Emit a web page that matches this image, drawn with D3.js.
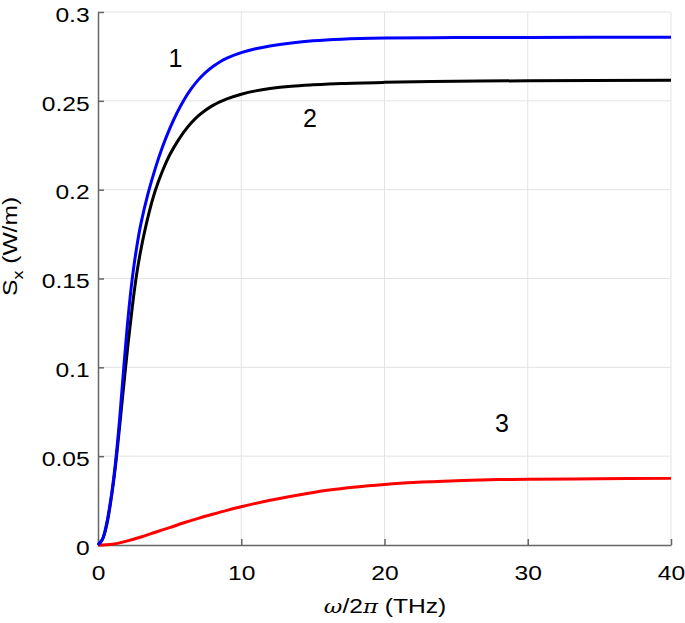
<!DOCTYPE html>
<html>
<head>
<meta charset="utf-8"/>
<style>
    body { margin: 0; background: #fff; }
    text { font-family: "Liberation Sans", Arial, sans-serif; fill: #000; }
    .grid line { stroke: #e3e3e3; stroke-width: 1; }
    .axis path, .axis line { stroke: #666; stroke-width: 1.5; }
    .axis text { font-size: 20.5px; }
</style>
</head>
<body>
<svg id="chart" width="685" height="623"></svg>
<script src="https://cdnjs.cloudflare.com/ajax/libs/d3/7.8.5/d3.min.js"></script>
<script>
// curve 1 (blue)
const x1 = [0, 0.3, 0.6, 0.9, 1.2, 1.5, 1.8, 2.1, 2.4, 2.7, 3, 3.5, 4, 4.5, 5, 5.5, 6, 6.5, 7, 7.5, 8, 8.5, 9, 10, 11, 12, 13.5, 15, 17, 20, 25, 30, 40];
const y1 = [0, 0.003, 0.012, 0.026, 0.045, 0.07, 0.1, 0.128, 0.1505, 0.1675, 0.181, 0.198, 0.212, 0.224, 0.2342, 0.243, 0.2505, 0.2567, 0.2618, 0.2659, 0.2692, 0.2719, 0.274, 0.2771, 0.2793, 0.2809, 0.2826, 0.2838, 0.2847, 0.2853, 0.2856, 0.2857, 0.2858];
// curve 2 (black)
const x2 = [0, 0.3, 0.6, 0.9, 1.2, 1.5, 1.8, 2.1, 2.4, 2.7, 3, 3.5, 4, 4.5, 5, 5.5, 6, 6.5, 7, 7.5, 8, 8.5, 9, 10, 11, 12, 13.5, 15, 17, 20, 25, 30, 40];
const y2 = [0, 0.003, 0.011, 0.025, 0.043, 0.066, 0.09, 0.1134, 0.1344, 0.1525, 0.1665, 0.185, 0.1995, 0.2105, 0.2195, 0.2265, 0.2325, 0.2375, 0.2415, 0.2447, 0.2473, 0.2494, 0.2511, 0.2537, 0.2556, 0.2569, 0.2582, 0.259, 0.2598, 0.2604, 0.261, 0.2613, 0.2616];
// curve 3 (red)
const x3 = [0, 1, 2, 3, 4, 5, 6, 7, 8, 9, 10, 12, 14, 16, 18, 20, 22, 25, 28, 30, 35, 40];
const y3 = [0, 0.0004, 0.0022, 0.0045, 0.0072, 0.0098, 0.0125, 0.015, 0.0173, 0.0195, 0.0215, 0.0252, 0.0282, 0.0308, 0.0327, 0.0341, 0.0352, 0.0362, 0.0368, 0.037, 0.0373, 0.0375];

const xTicks = [0, 10, 20, 30, 40];
const yTicks = [0, 0.05, 0.1, 0.15, 0.2, 0.25, 0.3];
const curveLabels = [
    {text: '1', x: 5.4, y: 0.269},
    {text: '2', x: 14.8, y: 0.2353},
    {text: '3', x: 28.2, y: 0.0636}
];

const plotL = 98, plotR = 671, plotT = 12, plotB = 545;
const svg = d3.select('#chart');

const x = d3.scaleLinear().domain([0, 40]).range([plotL, plotR]);
const y = d3.scaleLinear().domain([0, 0.3]).range([plotB, plotT]);

// grid lines
svg.append('g').attr('class', 'grid')
    .selectAll('line').data(xTicks.slice(1)).enter().append('line')
    .attr('x1', d => x(d)).attr('x2', d => x(d))
    .attr('y1', plotT).attr('y2', plotB);
svg.append('g').attr('class', 'grid')
    .selectAll('line').data(yTicks.slice(1)).enter().append('line')
    .attr('x1', plotL).attr('x2', plotR)
    .attr('y1', d => y(d)).attr('y2', d => y(d));

// axes (ticks point inward), text stretched a bit like the original export
svg.append('g').attr('class', 'axis')
    .attr('transform', 'translate(0,' + plotB + ')')
    .call(d3.axisBottom(x).tickValues(xTicks).tickSizeInner(-6).tickSizeOuter(0).tickPadding(20).tickFormat(d3.format('d')))
    .call(g => g.selectAll('text').attr('dy', '0.71em').attr('transform', 'scale(1.2,1)'));
svg.append('g').attr('class', 'axis')
    .attr('transform', 'translate(' + plotL + ',0)')
    .call(d3.axisLeft(y).tickValues(yTicks).tickSizeInner(-6).tickSizeOuter(0).tickPadding(7).tickFormat(d => d === 0 ? '0' : String(+d.toFixed(2))))
    .call(g => g.selectAll('text').attr('dy', '0.45em').attr('transform', 'scale(1.2,1)'));

// curves
const line = d3.line().x(d => x(d[0])).y(d => y(d[1])).curve(d3.curveCatmullRom.alpha(0.5));
const series = [
    {xs: x3, ys: y3, color: '#ff0000'},
    {xs: x2, ys: y2, color: '#000000'},
    {xs: x1, ys: y1, color: '#0000ff'}
];
series.forEach(s => {
    svg.append('path')
        .datum(d3.zip(s.xs, s.ys))
        .attr('fill', 'none')
        .attr('stroke', s.color)
        .attr('stroke-width', 3)
        .attr('d', line);
});

// curve numbers
svg.selectAll('.clabel').data(curveLabels).enter().append('text')
    .attr('class', 'clabel')
    .attr('x', d => x(d.x)).attr('y', d => y(d.y))
    .attr('text-anchor', 'middle')
    .attr('font-size', 25)
    .text(d => d.text);

// axis titles
const xt = svg.append('text')
    .attr('transform', 'translate(385,613) scale(1.2,1)')
    .attr('text-anchor', 'middle').attr('font-size', 20.5);
xt.append('tspan').attr('font-style', 'italic').attr('font-family', 'DejaVu Serif, serif').attr('font-size', 19).text('ω');
xt.append('tspan').text('/2');
xt.append('tspan').attr('font-style', 'italic').attr('font-family', 'DejaVu Serif, serif').attr('font-size', 19).text('π');
xt.append('tspan').text(' (THz)');

const yt = svg.append('text')
    .attr('transform', 'translate(17,296) rotate(-90) scale(1.2,1)')
    .attr('text-anchor', 'start').attr('font-size', 20.5);
yt.append('tspan').text('S');
yt.append('tspan').attr('font-size', 15).attr('dy', 6).text('x');
yt.append('tspan').attr('dy', -6).text(' (W/m)');
</script>
</body>
</html>
